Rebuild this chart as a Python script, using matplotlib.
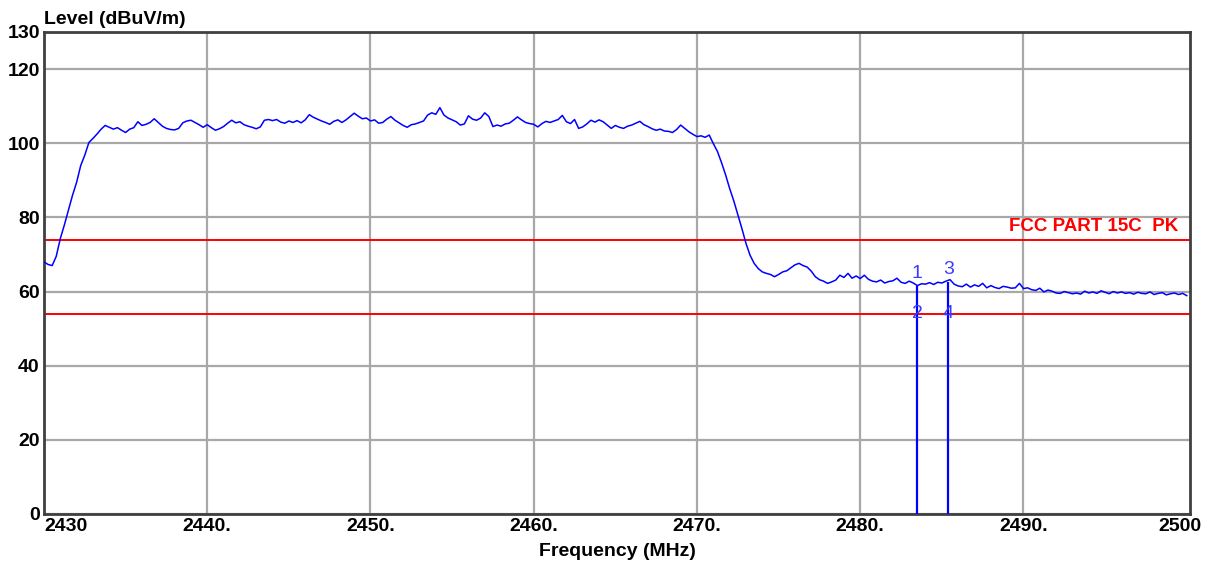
import numpy as np
import matplotlib
matplotlib.use('Agg')
import matplotlib.pyplot as plt
from matplotlib.transforms import ScaledTranslation

# spectrum trace, 2430 - 2500 MHz, one reading every 0.25 MHz
level = [
    68.0, 67.3, 67.0, 69.5, 74.3, 78.0, 82.0, 86.0, 89.5, 94.0,
    96.8, 100.2, 101.3, 102.5, 103.8, 104.8, 104.3, 103.8, 104.2, 103.5,
    102.9, 103.8, 104.2, 105.8, 104.8, 105.1, 105.6, 106.6, 105.6, 104.6,
    104.0, 103.7, 103.6, 104.0, 105.5, 106.0, 106.2, 105.6, 105.0, 104.3,
    105.0, 104.2, 103.5, 103.9, 104.5, 105.4, 106.2, 105.5, 105.8, 105.0,
    104.6, 104.3, 103.9, 104.4, 106.2, 106.4, 106.1, 106.4, 105.7, 105.4,
    106.0, 105.6, 106.1, 105.5, 106.3, 107.7, 107.0, 106.5, 106.0, 105.6,
    105.1, 105.9, 106.3, 105.6, 106.3, 107.2, 108.1, 107.3, 106.6, 106.8,
    106.0, 106.3, 105.4, 105.6, 106.5, 107.2, 106.2, 105.5, 104.8, 104.3,
    105.0, 105.2, 105.6, 106.0, 107.6, 108.2, 107.8, 109.6, 107.6, 106.8,
    106.3, 105.8, 104.9, 105.2, 107.4, 106.5, 106.2, 106.8, 108.2, 107.2,
    104.5, 104.9, 104.6, 105.2, 105.4, 106.2, 107.1, 106.3, 105.6, 105.3,
    105.1, 104.4, 105.3, 105.9, 105.6, 106.0, 106.4, 107.5, 105.8, 105.3,
    106.4, 104.0, 104.4, 105.2, 106.2, 105.7, 106.3, 105.8, 104.9, 104.0,
    104.8, 104.3, 104.0, 104.6, 104.9, 105.4, 105.9, 105.0, 104.5, 103.9,
    103.5, 103.8, 103.3, 103.2, 102.9, 103.7, 104.9, 104.0, 103.1, 102.4,
    101.8, 102.0, 101.6, 102.2, 99.9, 97.8, 94.8, 91.5, 87.8, 84.5,
    80.8, 77.0, 73.0, 69.8, 67.6, 66.2, 65.3, 64.9, 64.6, 64.0,
    64.6, 65.3, 65.6, 66.4, 67.2, 67.6, 67.0, 66.6, 65.5, 64.0,
    63.2, 62.8, 62.2, 62.6, 63.1, 64.4, 63.8, 64.9, 63.6, 64.2,
    63.5, 64.4, 63.3, 62.8, 62.6, 63.1, 62.3, 62.7, 62.9, 63.6,
    62.5, 62.2, 62.8, 62.3, 61.6, 62.1, 62.0, 62.4, 61.9, 62.5,
    62.3, 62.8, 63.2, 62.0, 61.5, 61.3, 62.0, 61.2, 61.8, 61.4,
    62.2, 61.0, 61.6, 61.1, 60.8, 61.4, 61.2, 60.9, 61.0, 62.2,
    60.8, 61.0, 60.5, 60.3, 60.9, 59.9, 60.4, 60.1, 59.6, 59.5,
    60.0, 59.7, 59.4, 59.6, 59.3, 60.1, 59.6, 59.9, 59.5, 60.2,
    59.8, 59.4, 60.0, 59.6, 59.9, 59.5, 59.7, 59.3, 59.8, 59.5,
    59.4, 59.9, 59.2, 59.5, 59.7, 59.1, 59.4, 59.6, 59.2, 59.5,
    58.9,
]
freq = np.linspace(2430, 2500, len(level))

limit_pk = 74
limit_av = 54
limit_label = 'FCC PART 15C  PK'

marker_freq = [2483.5, 2485.4]
marker_level = [61.6, 62.6]
marker_top_labels = ['1', '3']
marker_low_labels = ['2', '4']

x_ticks = [2430, 2440, 2450, 2460, 2470, 2480, 2490, 2500]
x_tick_labels = ['2430', '2440.', '2450.', '2460.', '2470.', '2480.', '2490.', '2500']
y_ticks = [0, 20, 40, 60, 80, 100, 120, 130]

plt.rcParams['font.family'] = ['Liberation Sans', 'DejaVu Sans']

fig = plt.figure(figsize=(12.1, 5.66), dpi=100)
ax = fig.add_axes([44 / 1210, 52 / 566, 1146 / 1210, 482 / 566])

ax.plot(freq, level, color='#0000ff', linewidth=1.1, zorder=3)

ax.axhline(limit_pk, color='#ff0000', linewidth=1.4, zorder=2)
ax.axhline(limit_av, color='#ff0000', linewidth=1.4, zorder=2)
ax.text(2499.5, limit_pk + 1.3, limit_label, color='#ff0000', fontsize=13.5,
        fontweight='bold', ha='right', va='bottom')

ax.vlines(marker_freq, 0, marker_level, color='#0000ff', linewidth=1.6, zorder=3)
for f, lv, t1, t2 in zip(marker_freq, marker_level, marker_top_labels, marker_low_labels):
    ax.text(f, lv + 1.0, t1, color='#3c3cff', fontsize=14, ha='center', va='bottom')
    ax.text(f, limit_av, t2, color='#3c3cff', fontsize=14, ha='center', va='center')

ax.set_xlim(2430, 2500.2)
ax.set_ylim(0, 130)
ax.set_xticks(x_ticks)
ax.set_xticklabels(x_tick_labels)
ax.set_yticks(y_ticks)
ax.grid(True, color='#a8a8a8', linewidth=1.6)
ax.set_axisbelow(True)
ax.xaxis.get_gridlines()[-1].set_visible(False)
ax.tick_params(length=0, labelsize=14, pad=3)
for lab in ax.get_xticklabels() + ax.get_yticklabels():
    lab.set_fontweight('bold')

xl = ax.get_xticklabels()
xl[0].set_horizontalalignment('left')
xl[-1].set_horizontalalignment('right')
xl[-1].set_transform(xl[-1].get_transform() + ScaledTranslation(0.15, 0, fig.dpi_scale_trans))

for sp in ax.spines.values():
    sp.set_color('#404040')
    sp.set_linewidth(2)

ax.set_xlabel('Frequency (MHz)', fontsize=14, fontweight='bold', labelpad=6)
ax.text(0, 1.009, 'Level (dBuV/m)', transform=ax.transAxes, fontsize=14,
        fontweight='bold', ha='left', va='bottom')

fig.savefig('out.png', dpi=100)
